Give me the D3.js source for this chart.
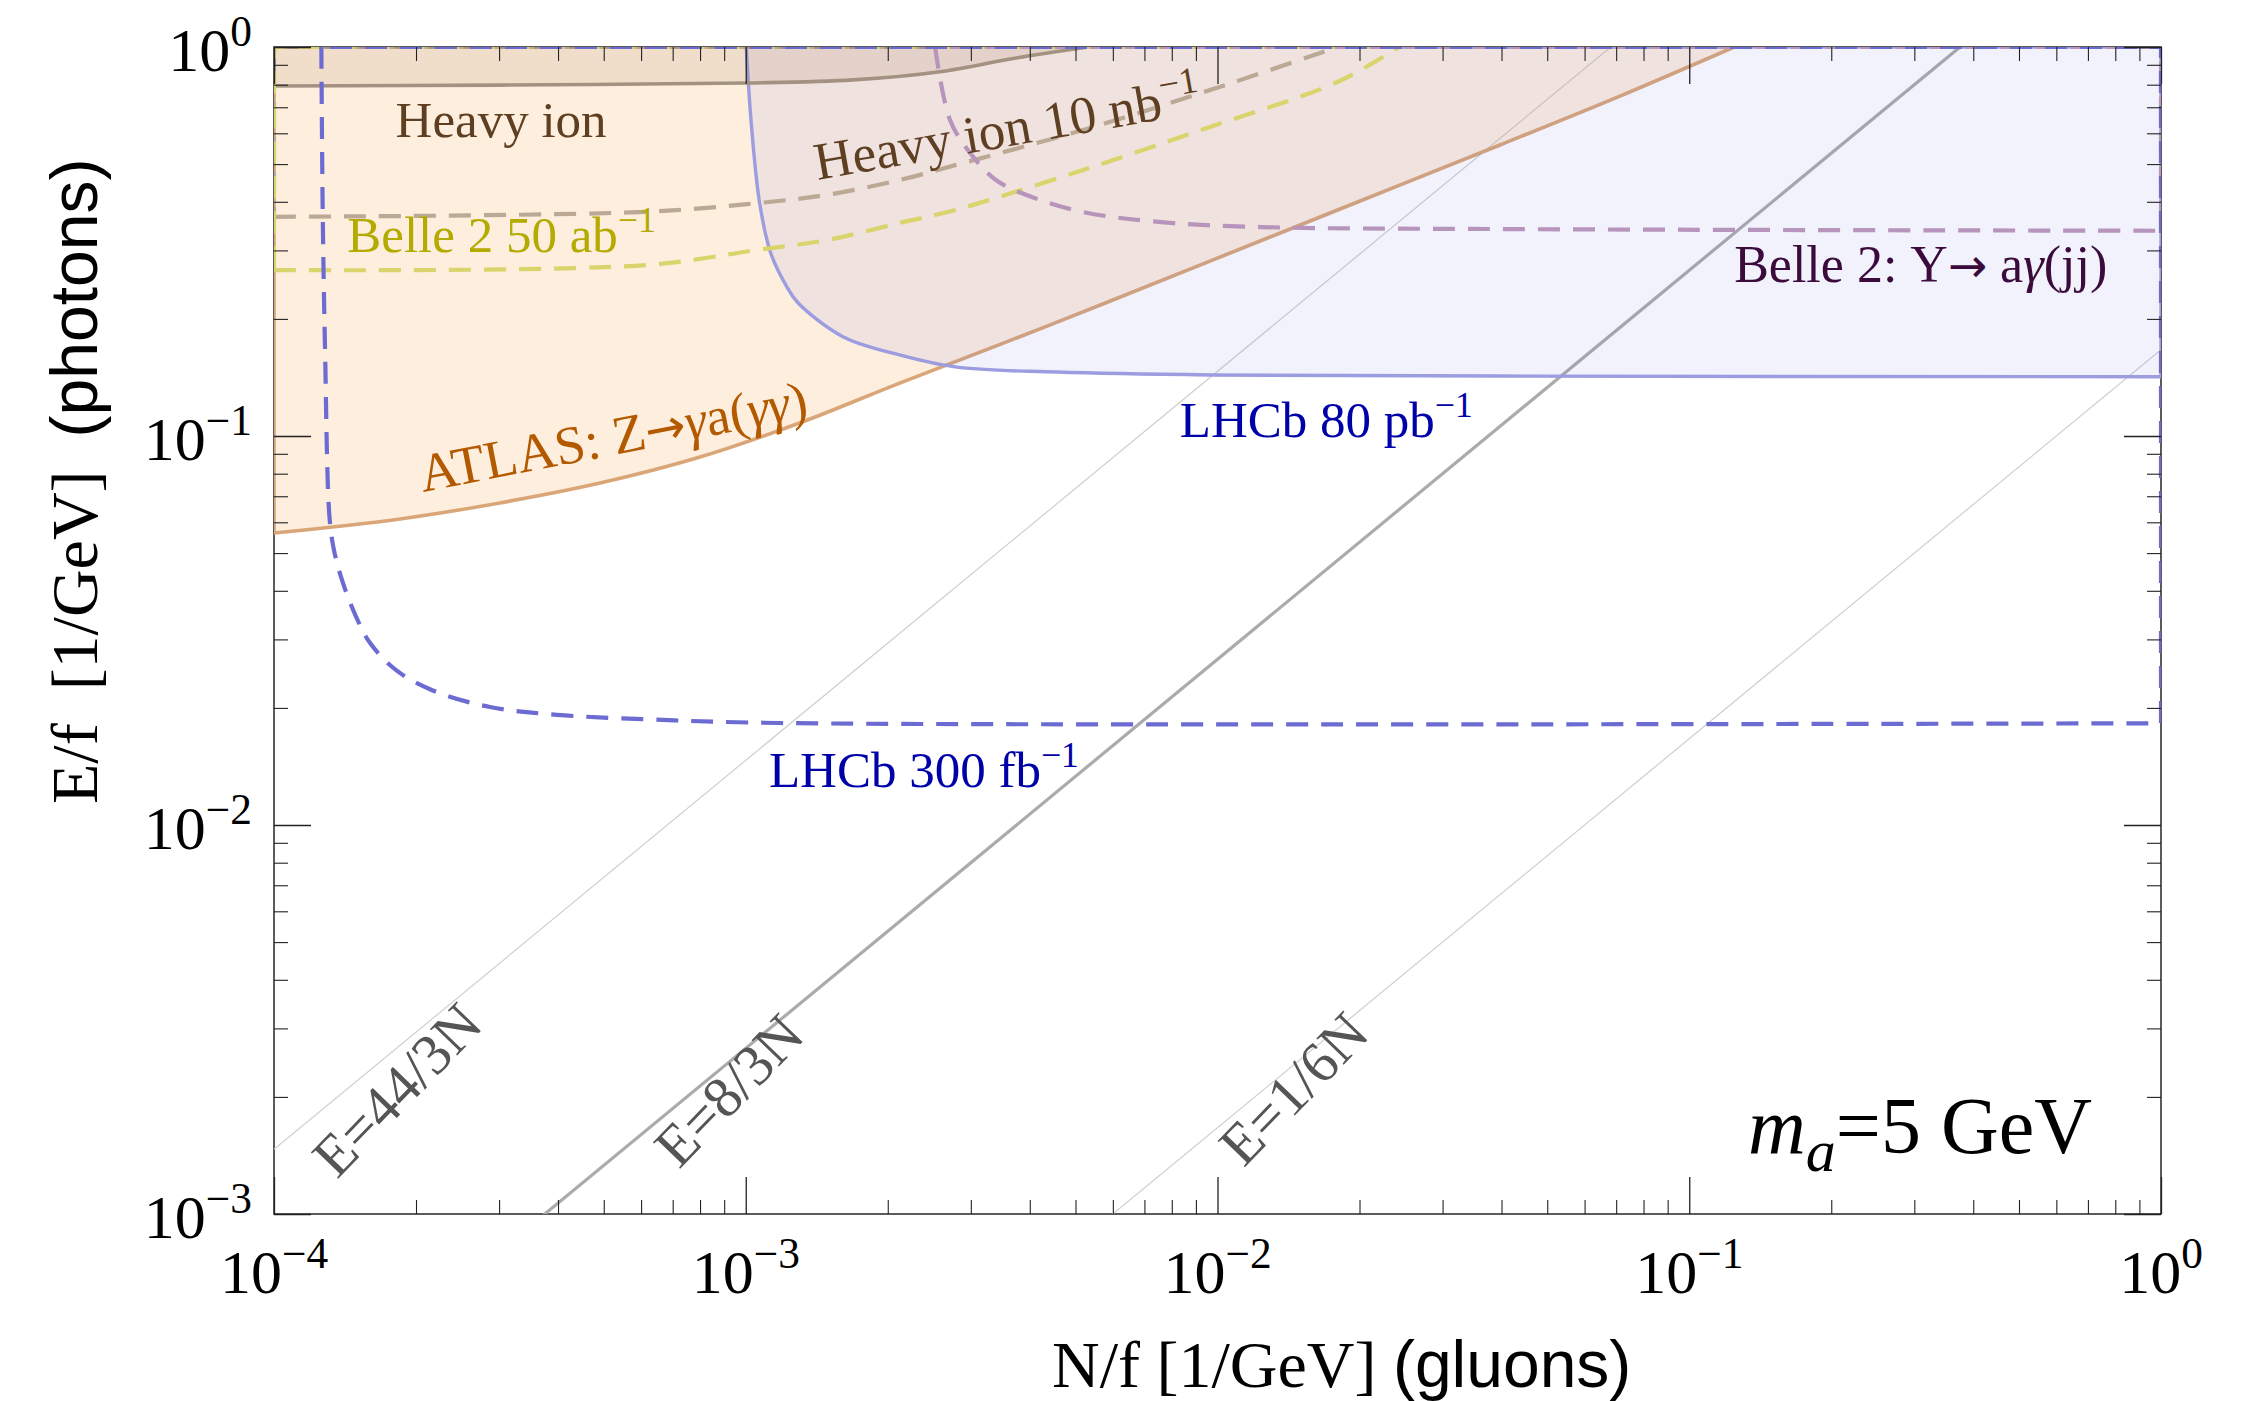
<!DOCTYPE html>
<html>
<head>
<meta charset="utf-8">
<script src="https://cdn.jsdelivr.net/npm/d3@7"></script>
<style>
  body { margin: 0; background: #fff; }
  svg text { font-family: "Liberation Serif", "Times New Roman", serif; }
</style>
</head>
<body>
<svg id="chart" width="2258" height="1401"></svg>
<script>
// ---- axis domains and tick decades ----
const xDomain = [1e-4, 1];
const yDomain = [1e-3, 1];
const xTickExponents = [-4, -3, -2, -1, 0];
const yTickExponents = [-3, -2, -1, 0];

// ---- existing heavy-ion bound (excluded above the curve) ----
const heavyIonN = [1e-4, 3e-4, 1e-3, 1.69e-3, 2.58e-3, 3.74e-3, 5.31e-3];
const heavyIonE = [0.794, 0.798, 0.808, 0.823, 0.864, 0.937, 1.0];

// ---- ATLAS Z -> gamma a(gamma gamma) bound ----
const atlasN = [1e-4, 1.85e-4, 3.01e-4, 4.91e-4, 8.0e-4, 1.30e-3, 2.12e-3, 4.42e-3, 9.18e-3, 0.0191, 0.0397, 0.0713, 0.1245];
const atlasE = [0.0563, 0.0612, 0.0673, 0.0757, 0.0883, 0.108, 0.1368, 0.193, 0.275, 0.3925, 0.56, 0.748, 1.0];

// ---- LHCb 80 pb^-1 bound ----
const lhcb80N = [1.0025e-3, 1.026e-3, 1.07e-3, 1.13e-3, 1.223e-3, 1.29e-3, 1.61e-3, 2.06e-3, 2.78e-3, 4.57e-3, 9.64e-3, 0.0397, 1.0];
const lhcb80E = [1.0, 0.649, 0.397, 0.295, 0.2415, 0.22, 0.1797, 0.163, 0.1505, 0.146, 0.1435, 0.1426, 0.142];

// ---- projections (dashed) ----
const lhcb300N = [1.26e-4, 1.269e-4, 1.283e-4, 1.311e-4, 1.34e-4, 1.40e-4, 1.493e-4, 1.597e-4, 1.815e-4, 2.165e-4, 2.87e-4, 3.98e-4, 6.14e-4, 1.18e-3, 1.0];
const lhcb300E = [1.0, 0.359, 0.1664, 0.0619, 0.0509, 0.0419, 0.0343, 0.0294, 0.025, 0.0222, 0.0201, 0.0192, 0.0187, 0.01829, 0.01826];

const heavyIon10N = [1e-4, 6.14e-4, 1.06e-3, 1.49e-3, 2.12e-3, 2.78e-3, 5.19e-3, 9.64e-3, 0.018];
const heavyIon10E = [0.366, 0.377, 0.397, 0.417, 0.455, 0.497, 0.612, 0.775, 1.0];

const belle50N = [1e-4, 6.14e-4, 1.06e-3, 1.49e-3, 2.12e-3, 2.78e-3, 5.19e-3, 9.64e-3, 0.018, 0.02426];
const belle50E = [0.267, 0.275, 0.301, 0.319, 0.353, 0.381, 0.483, 0.623, 0.814, 1.0];

const belleUpsN = [2.52e-3, 2.71e-3, 2.99e-3, 3.39e-3, 4.04e-3, 5.19e-3, 7.51e-3, 0.01236, 0.0397, 1.0];
const belleUpsE = [1.0, 0.649, 0.534, 0.455, 0.4116, 0.3765, 0.355, 0.3445, 0.3404, 0.337];

// ---- benchmark ratios E = k N ----
const ratioValues = [44 / 3, 8 / 3, 1 / 6];
const ratioLabels = ["E=44/3N", "E=8/3N", "E=1/6N"];

// ---------------------------------------------------------------
const svg = d3.select("#chart");
const plot = { left: 274, right: 2161, top: 47, bottom: 1214 };

const x = d3.scaleLog().domain(xDomain).range([plot.left, plot.right]);
const y = d3.scaleLog().domain(yDomain).range([plot.bottom, plot.top]);

svg.append("defs").append("clipPath").attr("id", "plotClip")
  .append("rect")
  .attr("x", plot.left).attr("y", plot.top)
  .attr("width", plot.right - plot.left).attr("height", plot.bottom - plot.top);

// frame
svg.append("rect")
  .attr("x", plot.left).attr("y", plot.top)
  .attr("width", plot.right - plot.left).attr("height", plot.bottom - plot.top)
  .attr("fill", "none").attr("stroke", "#333").attr("stroke-width", 1.6);

const layer = svg.append("g").attr("clip-path", "url(#plotClip)");

const toPts = (Ns, Es) => Ns.map((n, i) => [x(n), y(Es[i])]);
const smooth = d3.line().curve(d3.curveCatmullRom.alpha(0.5));

// closes a bound along the frame through the given corner
function region(Ns, Es, cornerN, cornerE) {
  return smooth(toPts(Ns, Es)) + `L${x(cornerN)},${y(cornerE)}Z`;
}

// E = k N benchmark lines
ratioValues.forEach((k, i) => {
  layer.append("line")
    .attr("x1", x(xDomain[0])).attr("y1", y(k * xDomain[0]))
    .attr("x2", x(xDomain[1])).attr("y2", y(k * xDomain[1]))
    .attr("stroke", i === 1 ? "#ababab" : "#cfcfcf")
    .attr("stroke-width", i === 1 ? 3.2 : 1.2);
});

// shaded exclusions
layer.append("path")
  .attr("d", region(atlasN, atlasE, xDomain[0], yDomain[1]))
  .attr("fill", "rgba(250,168,90,0.2)")
  .attr("stroke", "#daa677").attr("stroke-width", 3.6);

layer.append("path")
  .attr("d", region(lhcb80N, lhcb80E, xDomain[1], yDomain[1]))
  .attr("fill", "rgba(100,110,220,0.09)")
  .attr("stroke", "#9c9ce0").attr("stroke-width", 3.4);

layer.append("path")
  .attr("d", region(heavyIonN, heavyIonE, xDomain[0], yDomain[1]))
  .attr("fill", "rgba(150,110,70,0.13)")
  .attr("stroke", "#a39282").attr("stroke-width", 3.6);

// dashed projections
const dash = "22,13";
[
  [heavyIon10N, heavyIon10E, xDomain[0], "#bba995"],
  [belle50N, belle50E, xDomain[0], "#d9d46c"],
  [belleUpsN, belleUpsE, xDomain[1], "#b794bb"],
  [lhcb300N, lhcb300E, xDomain[1], "#6b6bd2"]
].forEach(([Ns, Es, cx, color]) => {
  layer.append("path")
    .attr("d", region(Ns, Es, cx, yDomain[1]))
    .attr("fill", "none")
    .attr("stroke", color).attr("stroke-width", 4.2)
    .attr("stroke-dasharray", dash);
});

// ---- ticks on all four sides ----
const xMajor = xTickExponents.map(e => Math.pow(10, e));
const yMajor = yTickExponents.map(e => Math.pow(10, e));
const isMajor = (v, list) => list.some(m => Math.abs(v - m) / m < 1e-9);
const xMinor = x.ticks().filter(v => !isMajor(v, xMajor));
const yMinor = y.ticks().filter(v => !isMajor(v, yMajor));

function tickSet(axisFn, scale, values, len, transform, width) {
  svg.append("g").attr("transform", transform)
    .call(axisFn(scale).tickValues(values).tickSize(-len).tickFormat(""))
    .call(g => g.select(".domain").remove())
    .call(g => g.selectAll("line").attr("stroke", "#222").attr("stroke-width", width));
}
tickSet(d3.axisBottom, x, xMinor, 14, `translate(0,${plot.bottom})`, 1.1);
tickSet(d3.axisBottom, x, xMajor, 37, `translate(0,${plot.bottom})`, 1.3);
tickSet(d3.axisTop, x, xMinor, 14, `translate(0,${plot.top})`, 1.1);
tickSet(d3.axisTop, x, xMajor, 37, `translate(0,${plot.top})`, 1.3);
tickSet(d3.axisLeft, y, yMinor, 14, `translate(${plot.left},0)`, 1.1);
tickSet(d3.axisLeft, y, yMajor, 37, `translate(${plot.left},0)`, 1.3);
tickSet(d3.axisRight, y, yMinor, 14, `translate(${plot.right},0)`, 1.1);
tickSet(d3.axisRight, y, yMajor, 37, `translate(${plot.right},0)`, 1.3);

// ---- rich text helper (super/subscripts, italics, font family) ----
function rich(sel, parts, size) {
  let shift = 0;
  parts.forEach(p => {
    const ts = sel.append("tspan").text(p.t);
    const target = p.sup ? -0.4 * size : p.sub ? 0.22 * size : 0;
    if (target !== shift) ts.attr("dy", target - shift);
    shift = target;
    if (p.sup || p.sub) ts.attr("font-size", size * (p.scale || 0.7));
    if (p.it) ts.attr("font-style", "italic");
    if (p.sans) ts.attr("font-family", "'Liberation Sans', Arial, sans-serif");
    if (p.arrow) ts.attr("font-family", "'DejaVu Sans', sans-serif").attr("font-size", size * 0.9);
  });
}
const minus = "\u2212";
const arrow = "\u2192";

// tick labels
const tickSize = 62;
xTickExponents.forEach(e => {
  const t = svg.append("text")
    .attr("x", x(Math.pow(10, e))).attr("y", 1293)
    .attr("text-anchor", "middle").attr("font-size", tickSize);
  rich(t, [{ t: "10" }, { t: e === 0 ? "0" : minus + (-e), sup: true }], tickSize);
});
yTickExponents.forEach(e => {
  const t = svg.append("text")
    .attr("x", 252).attr("y", y(Math.pow(10, e)) + 24)
    .attr("text-anchor", "end").attr("font-size", tickSize);
  rich(t, [{ t: "10" }, { t: e === 0 ? "0" : minus + (-e), sup: true }], tickSize);
});

// axis titles
const nb = "\u00A0";
const xt = svg.append("text").attr("x", 1052).attr("y", 1387).attr("font-size", 66);
rich(xt, [{ t: "N/f [1/GeV]" + nb }, { t: "(gluons)", sans: true }], 66);

const yt = svg.append("text").attr("transform", "translate(97,804) rotate(-90)").attr("font-size", 66);
rich(yt, [{ t: "E/f" + nb + nb + "[1/GeV]" + nb + nb }, { t: "(photons)", sans: true }], 66);

// ---- curve annotations (anchored in data coordinates) ----
const annotations = [
  { N: 1.81e-4, E: 0.587, angle: 0, size: 51, color: "#5e3f22", parts: [{ t: "Heavy ion" }] },
  { N: 1.42e-3, E: 0.455, angle: -10, size: 53, color: "#5e3f22", parts: [{ t: "Heavy ion 10 nb" }, { t: minus + "1", sup: true }] },
  { N: 1.43e-4, E: 0.297, angle: 0, size: 51, color: "#b3ab00", parts: [{ t: "Belle 2 50 ab" }, { t: minus + "1", sup: true }] },
  { N: 2.07e-4, E: 0.0718, angle: -11, size: 54, color: "#b35a00",
    parts: [{ t: "ATLAS: Z" }, { t: arrow, arrow: true }, { t: "\u03B3", it: true }, { t: "a(" }, { t: "\u03B3\u03B3", it: true }, { t: ")" }] },
  { N: 8.32e-3, E: 0.0994, angle: 0, size: 51, color: "#0000a8", parts: [{ t: "LHCb 80 pb" }, { t: minus + "1", sup: true }] },
  { N: 1.12e-3, E: 0.01253, angle: 0, size: 51, color: "#0000a8", parts: [{ t: "LHCb 300 fb" }, { t: minus + "1", sup: true }] },
  { N: 0.1245, E: 0.249, angle: 0, size: 52, color: "#3b0b3b",
    parts: [{ t: "Belle 2: \u03A5" }, { t: arrow, arrow: true }, { t: " a" }, { t: "\u03B3", it: true }, { t: "(jj)" }] }
];
annotations.forEach(a => {
  const t = svg.append("text")
    .attr("transform", `translate(${x(a.N)},${y(a.E)}) rotate(${a.angle})`)
    .attr("font-size", a.size).attr("fill", a.color);
  rich(t, a.parts, a.size);
});

// benchmark line labels
const ratioLabelAngle = -46;
const ratioLabelAnchors = [[1.36e-4, 1.223e-3], [7.22e-4, 1.297e-3], [0.01137, 1.31e-3]];
ratioLabels.forEach((lab, i) => {
  svg.append("text")
    .attr("transform", `translate(${x(ratioLabelAnchors[i][0])},${y(ratioLabelAnchors[i][1])}) rotate(${ratioLabelAngle})`)
    .attr("font-size", 58).attr("fill", "#555")
    .text(lab);
});

// mass label
const ml = svg.append("text").attr("x", 2092).attr("y", 1153)
  .attr("text-anchor", "end").attr("font-size", 80);
rich(ml, [{ t: "m", it: true }, { t: "a", it: true, sub: true, scale: 0.75 }, { t: "=5 GeV" }], 80);
</script>
</body>
</html>
